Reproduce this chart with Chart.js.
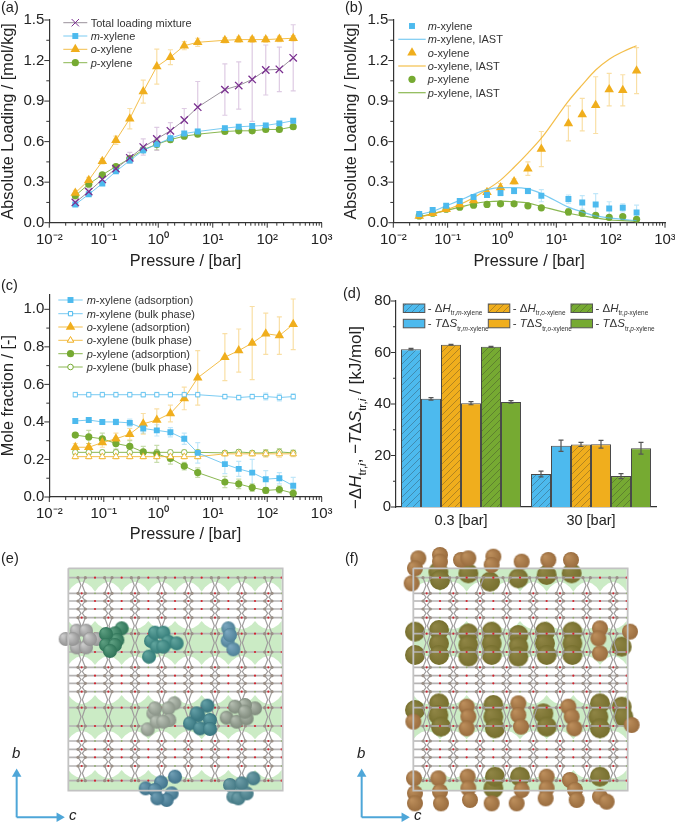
<!DOCTYPE html>
<html>
<head>
<meta charset="utf-8">
<title>Xylene adsorption</title>
<script src="https://cdn.jsdelivr.net/npm/chart.js@4/dist/chart.umd.js"></script>
<style>
  html, body { margin: 0; padding: 0; background: #fff; }
  canvas { position: absolute; }
  #chart-a { left: 0; top: 0; }
  #chart-b { left: 335px; top: 0; }
  #chart-c { left: 0; top: 270px; }
  #chart-d { left: 335px; top: 270px; }
  #chart-e { left: 0; top: 540px; }
  #chart-f { left: 335px; top: 540px; }
</style>
</head>
<body>
<canvas id="chart-a" width="335" height="270"></canvas>
<canvas id="chart-b" width="340" height="270"></canvas>
<canvas id="chart-c" width="335" height="273"></canvas>
<canvas id="chart-d" width="340" height="273"></canvas>
<canvas id="chart-e" width="330" height="283"></canvas>
<canvas id="chart-f" width="330" height="283"></canvas>
<script>
// pressures shared by panels a, b, c [bar]
var pressures = [0.03, 0.053, 0.094, 0.167, 0.3, 0.53, 0.94, 1.67, 3, 5.3, 16.7, 30, 53, 94, 167, 300];

// panel a: mixture loading
var aTotal = [0.15, 0.23, 0.32, 0.40, 0.48, 0.56, 0.62, 0.68, 0.76, 0.855, 0.985, 1.015, 1.06, 1.13, 1.135, 1.22];
var aTotalErr = [0.02, 0.02, 0.02, 0.03, 0.04, 0.06, 0.085, 0.06, 0.085, 0.19, 0.19, 0.175, 0.31, 0.185, 0.165, 0.245];
var aMeta = [0.135, 0.21, 0.29, 0.38, 0.46, 0.535, 0.58, 0.625, 0.66, 0.675, 0.70, 0.71, 0.715, 0.72, 0.735, 0.755];
var aMetaErr = [0.01, 0.01, 0.01, 0.01, 0.015, 0.02, 0.02, 0.02, 0.015, 0.015, 0.015, 0.015, 0.015, 0.015, 0.015, 0.015];
var aOrtho = [0.22, 0.315, 0.455, 0.61, 0.77, 0.97, 1.155, 1.225, 1.31, 1.335, 1.35, 1.355, 1.355, 1.355, 1.36, 1.365];
var aOrthoErr = [0.02, 0.02, 0.02, 0.03, 0.075, 0.085, 0.13, 0.055, 0.03, 0.03, 0.02, 0.02, 0.02, 0.02, 0.02, 0.02];
var aPara = [0.20, 0.285, 0.355, 0.415, 0.475, 0.54, 0.58, 0.615, 0.64, 0.655, 0.675, 0.68, 0.68, 0.69, 0.69, 0.71];
var aParaErr = [0.01, 0.01, 0.01, 0.01, 0.015, 0.02, 0.04, 0.02, 0.015, 0.015, 0.015, 0.015, 0.015, 0.015, 0.015, 0.015];

// panel b: simulation vs IAST
var bMeta = [0.065, 0.095, 0.125, 0.16, 0.19, 0.205, 0.22, 0.235, 0.235, 0.20, 0.175, 0.15, 0.135, 0.105, 0.11, 0.075];
var bMetaErr = [0.01, 0.01, 0.01, 0.01, 0.015, 0.015, 0.02, 0.02, 0.02, 0.045, 0.03, 0.05, 0.08, 0.05, 0.03, 0.055];
var bOrtho = [0.05, 0.07, 0.10, 0.135, 0.165, 0.225, 0.26, 0.305, 0.40, 0.545, 0.735, 0.80, 0.87, 0.985, 0.98, 1.125];
var bOrthoErr = [0.005, 0.005, 0.01, 0.01, 0.02, 0.02, 0.03, 0.02, 0.05, 0.13, 0.13, 0.12, 0.21, 0.12, 0.115, 0.17];
var bPara = [0.05, 0.07, 0.10, 0.115, 0.13, 0.135, 0.14, 0.14, 0.125, 0.11, 0.08, 0.07, 0.055, 0.04, 0.045, 0.025];
var bParaErr = [0.005, 0.005, 0.005, 0.01, 0.01, 0.01, 0.01, 0.01, 0.01, 0.01, 0.025, 0.015, 0.01, 0.01, 0.01, 0.01];
var bMetaIast = [0.06, 0.085, 0.125, 0.165, 0.21, 0.245, 0.26, 0.26, 0.25, 0.215, 0.115, 0.08, 0.05, 0.035, 0.025, 0.015];
var bOrthoIast = [0.04, 0.065, 0.095, 0.135, 0.185, 0.245, 0.315, 0.41, 0.515, 0.625, 0.90, 1.02, 1.13, 1.21, 1.265, 1.31];
var bParaIast = [0.045, 0.065, 0.09, 0.115, 0.14, 0.155, 0.16, 0.155, 0.145, 0.12, 0.07, 0.05, 0.035, 0.02, 0.015, 0.01];

// panel c: mole fractions
var cMetaAds = [0.405, 0.41, 0.40, 0.40, 0.395, 0.365, 0.355, 0.345, 0.31, 0.235, 0.175, 0.15, 0.13, 0.095, 0.10, 0.06];
var cMetaAdsErr = [0.01, 0.01, 0.01, 0.015, 0.02, 0.025, 0.03, 0.025, 0.03, 0.055, 0.05, 0.04, 0.07, 0.045, 0.03, 0.045];
var cMetaBulk = [0.545, 0.545, 0.545, 0.545, 0.545, 0.545, 0.545, 0.545, 0.545, 0.545, 0.535, 0.53, 0.535, 0.535, 0.53, 0.535];
var cOrthoAds = [0.265, 0.265, 0.29, 0.31, 0.335, 0.39, 0.41, 0.445, 0.525, 0.635, 0.745, 0.78, 0.82, 0.87, 0.86, 0.92];
var cOrthoAdsErr = [0.02, 0.02, 0.025, 0.03, 0.03, 0.055, 0.06, 0.045, 0.06, 0.145, 0.125, 0.115, 0.195, 0.11, 0.1, 0.135];
var cOrthoBulk = [0.215, 0.215, 0.215, 0.215, 0.215, 0.215, 0.215, 0.215, 0.215, 0.215, 0.23, 0.23, 0.23, 0.23, 0.23, 0.23];
var cParaAds = [0.33, 0.32, 0.31, 0.285, 0.27, 0.24, 0.23, 0.205, 0.165, 0.13, 0.08, 0.07, 0.05, 0.035, 0.04, 0.02];
var cParaAdsErr = [0.01, 0.035, 0.03, 0.03, 0.03, 0.03, 0.045, 0.03, 0.02, 0.025, 0.03, 0.025, 0.02, 0.015, 0.02, 0.02];
var cParaBulk = [0.238, 0.238, 0.238, 0.238, 0.238, 0.238, 0.238, 0.238, 0.238, 0.238, 0.235, 0.24, 0.235, 0.235, 0.24, 0.235];
var cBulkErr = [0.012, 0.012, 0.012, 0.012, 0.012, 0.012, 0.012, 0.012, 0.012, 0.012, 0.012, 0.012, 0.012, 0.018, 0.018, 0.015];

// panel d: enthalpy and entropy terms at two pressures
var dCategories = ['0.3 [bar]', '30 [bar]'];
var dMetaH = [61.3, 12.8], dMetaHErr = [0.3, 1.1];
var dMetaS = [42.0, 23.8], dMetaSErr = [0.5, 2.2];
var dOrthoH = [63.0, 24.3], dOrthoHErr = [0.15, 0.8];
var dOrthoS = [40.3, 24.4], dOrthoSErr = [0.6, 1.5];
var dParaH = [62.2, 12.0], dParaHErr = [0.2, 1.0];
var dParaS = [40.8, 22.8], dParaSErr = [0.5, 2.3];

// panels e, f: framework lattice
var latticeCols = [245, 325, 405, 485, 565, 645, 725, 805];
var latticeRows = [113, 160, 183, 207, 233, 281, 336, 382, 407, 430, 455, 503, 558, 603, 628, 652, 678, 722];
var colOxygenRows = [160, 183, 233, 281, 336, 382, 455, 503, 558, 603, 628, 678, 722];
var midOxygenRows = [113, 183, 207, 281, 336, 407, 430, 503, 558, 628, 652, 722];
var boxEdges = [205, 848, 85, 752];
// [top rim at column, top rim at midpoint, bottom rim at column, bottom rim at midpoint]
var bands = [[85, 85, 125, 155], [268, 243, 348, 375], [492, 465, 572, 598], [715, 690, 752, 752]];

// panel e: adsorbed molecules
var molGrey = [[197, 297], [290, 297], [230, 272], [258, 272], [230, 322], [258, 322], [218, 297], [270, 297]];
var molGreen = [[365, 265], [345, 280], [352, 300], [318, 282], [318, 315], [345, 315], [330, 333]];
var molTeal = [[447, 350], [453, 303], [465, 278], [490, 278], [505, 305], [530, 310], [470, 320], [490, 320]];
var molBlue = [[685, 265], [683, 302], [700, 328], [690, 285]];
var molSage = [[523, 490], [505, 505], [460, 520], [508, 540], [443, 568], [470, 545], [490, 545], [465, 505]];
var molTeal2 = [[622, 497], [595, 525], [630, 540], [570, 550], [600, 565], [630, 567], [590, 520]];
var molSage2 = [[765, 505], [735, 495], [705, 500], [680, 533], [710, 545], [740, 535], [735, 515]];
var molBlue2 = [[525, 710], [483, 727], [437, 745], [465, 750], [515, 760], [500, 780], [472, 775]];
var molBlue3 = [[760, 715], [690, 735], [725, 755], [700, 770], [715, 775], [740, 760], [725, 730]];

// panel f: density spots
var spotOlive = [
  [310, 95], [315, 120], [400, 100], [465, 125], [550, 115], [635, 105], [710, 100],
  [240, 275], [240, 345], [312, 270], [312, 310], [312, 345], [400, 280], [400, 315], [400, 350],
  [470, 275], [470, 310], [470, 345], [550, 285], [550, 320], [550, 350], [630, 275], [630, 310], [635, 345],
  [712, 275], [712, 310], [712, 345], [860, 320],
  [240, 510], [312, 490], [310, 525], [318, 560], [475, 495], [475, 530], [480, 565], [625, 520], [635, 560],
  [795, 490], [790, 530], [795, 565], [860, 500], [865, 530],
  [475, 745], [480, 710], [555, 710], [795, 710]
];
var spotBrown = [
  [250, 55], [240, 85], [230, 130], [315, 45], [315, 65], [378, 60], [400, 55], [475, 50], [470, 75], [560, 65], [640, 60], [708, 60],
  [795, 265], [790, 295], [795, 340], [885, 275],
  [395, 500], [400, 530], [395, 565], [550, 490], [550, 525], [558, 560], [700, 500], [710, 530], [718, 565], [235, 545], [890, 555],
  [237, 715], [240, 760], [240, 790], [310, 715], [315, 755], [318, 790], [398, 710], [400, 745], [405, 780],
  [470, 790], [545, 790], [560, 750], [635, 710], [635, 745], [632, 775], [705, 720], [720, 750], [725, 780], [795, 770], [815, 785]
];

var FONT = '"Liberation Sans", Arial, sans-serif';
var BLUE = '#4dbaee', ORANGE = '#f0ae1d', GREEN = '#76aa32', PURPLE = '#7a2f90';
var AXIS = '#333333';

Chart.defaults.font.family = FONT;
Chart.defaults.color = '#222222';

function withPressure(values) {
  return values.map(function (v, i) { return { x: pressures[i], y: v }; });
}

// italic/subscript text, parts are [text, style]: '' plain, 'i' italic, 's' subscript, 't' tiny subscript
function isLowered(style) { return style.charAt(0) === 's' || style.charAt(0) === 't'; }

function partFont(style, size) {
  var scale = style.charAt(0) === 's' ? 0.68 : (style.charAt(0) === 't' ? 0.56 : 1);
  return (style.indexOf('i') >= 0 ? 'italic ' : '') + size * scale + 'px ' + FONT;
}

function richWidth(ctx, parts, size) {
  var w = 0;
  parts.forEach(function (p) {
    ctx.font = partFont(p[1], size);
    w += ctx.measureText(p[0]).width;
  });
  return w;
}

function drawRich(ctx, parts, x, y, size) {
  ctx.textAlign = 'left';
  ctx.textBaseline = 'alphabetic';
  parts.forEach(function (p) {
    ctx.font = partFont(p[1], size);
    ctx.fillText(p[0], x, isLowered(p[1]) ? y + size * 0.3 : y);
    x += ctx.measureText(p[0]).width;
  });
}

// tick marks, longer on labelled ticks
var tickMarks = {
  id: 'tickMarks',
  afterDraw: function (chart) {
    var ctx = chart.ctx;
    ['x', 'y'].forEach(function (id) {
      var scale = chart.scales[id];
      if (!scale.options.display || scale.type === 'category') return;
      ctx.save();
      ctx.strokeStyle = AXIS;
      ctx.lineWidth = 1;
      scale.ticks.forEach(function (t) {
        var len = t.label ? 5 : 3;
        var p = scale.getPixelForValue(t.value);
        ctx.beginPath();
        if (id === 'x') {
          ctx.moveTo(p, scale.top);
          ctx.lineTo(p, scale.top + len);
        } else {
          ctx.moveTo(scale.right, p);
          ctx.lineTo(scale.right - len, p);
        }
        ctx.stroke();
      });
      ctx.restore();
    });
  }
};

// whiskers from dataset.errors
function drawWhiskers(chart) {
  var ctx = chart.ctx;
  var yScale = chart.scales.y;
  chart.data.datasets.forEach(function (ds, di) {
    if (!ds.errors) return;
    var meta = chart.getDatasetMeta(di);
    ctx.save();
    ctx.strokeStyle = ds.errorColor;
    ctx.lineWidth = 1.2;
    ds.errors.forEach(function (err, i) {
      var raw = ds.data[i];
      var val = typeof raw === 'object' ? raw.y : raw;
      var x = meta.data[i].x;
      var hi = yScale.getPixelForValue(val + err);
      var lo = yScale.getPixelForValue(val - err);
      ctx.beginPath();
      ctx.moveTo(x, hi);
      ctx.lineTo(x, lo);
      ctx.moveTo(x - 2.5, hi);
      ctx.lineTo(x + 2.5, hi);
      ctx.moveTo(x - 2.5, lo);
      ctx.lineTo(x + 2.5, lo);
      ctx.stroke();
    });
    ctx.restore();
  });
}

var errorBars = {
  id: 'errorBars',
  beforeDatasetsDraw: function (chart) { if (chart.config.type !== 'bar') drawWhiskers(chart); },
  afterDatasetsDraw: function (chart) { if (chart.config.type === 'bar') drawWhiskers(chart); }
};

// legend with italic parts, rows come from dataset.parts
var richLegend = {
  id: 'richLegend',
  afterDraw: function (chart, args, opts) {
    if (!opts.rows) return;
    var ctx = chart.ctx;
    chart.data.datasets.forEach(function (ds, i) {
      var y = opts.rows[i];
      ctx.save();
      if (ds.showLine !== false) {
        ctx.strokeStyle = ds.borderColor;
        ctx.lineWidth = ds.borderWidth;
        ctx.beginPath();
        ctx.moveTo(opts.line[0], y);
        ctx.lineTo(opts.line[1], y);
        ctx.stroke();
      }
      if (ds.pointRadius > 0) {
        ctx.fillStyle = ds.pointBackgroundColor;
        ctx.strokeStyle = ds.pointBorderColor;
        Chart.helpers.drawPoint(ctx, {
          pointStyle: ds.pointStyle, radius: ds.pointRadius, rotation: 0, borderWidth: ds.pointBorderWidth
        }, (opts.line[0] + opts.line[1]) / 2, y);
      }
      ctx.fillStyle = '#333333';
      drawRich(ctx, ds.parts, opts.textX, y + 4, opts.size);
      ctx.restore();
    });
  }
};

// legend of the bar panel: swatch grid
var swatchLegend = {
  id: 'swatchLegend',
  afterDraw: function (chart, args, opts) {
    if (!opts.cols) return;
    var ctx = chart.ctx;
    chart.data.datasets.forEach(function (ds, i) {
      var x = opts.cols[Math.floor(i / 2)];
      var y = opts.rows[i % 2];
      ctx.save();
      ctx.fillStyle = ds.backgroundColor;
      ctx.fillRect(x, y, 21.5, 8.5);
      ctx.strokeStyle = '#555555';
      ctx.lineWidth = 1;
      ctx.strokeRect(x, y, 21.5, 8.5);
      ctx.fillStyle = '#333333';
      drawRich(ctx, ds.parts, x + 24.5, y + 8, 11.5);
      ctx.restore();
    });
  }
};

// panel letter and any other loose text, positions in canvas pixels
var looseText = {
  id: 'looseText',
  afterDraw: function (chart, args, opts) {
    var ctx = chart.ctx;
    (opts.items || []).forEach(function (t) {
      ctx.save();
      ctx.fillStyle = '#222222';
      ctx.translate(t.x, t.y);
      if (t.vertical) {
        ctx.rotate(-Math.PI / 2);
        drawRich(ctx, t.parts, -richWidth(ctx, t.parts, t.size) / 2, 0, t.size);
      } else {
        drawRich(ctx, t.parts, 0, 0, t.size);
      }
      ctx.restore();
    });
  }
};

Chart.register(tickMarks, errorBars, richLegend, swatchLegend, looseText);

var SUPER = { '-': '\u207B', '0': '\u2070', '1': '\u00B9', '2': '\u00B2', '3': '\u00B3' };

function logLabel(v) {
  var e = Math.log10(v);
  if (Math.abs(e - Math.round(e)) > 1e-9) return '';
  return '10' + String(Math.round(e)).split('').map(function (c) { return SUPER[c]; }).join('');
}

function pressureAxis(height) {
  return {
    type: 'logarithmic',
    min: 0.01,
    max: 1000,
    grid: { display: false, drawTicks: false },
    border: { color: AXIS, width: 1.2 },
    ticks: { autoSkip: false, maxRotation: 0, padding: 8, color: '#222222', font: { size: 15 }, callback: logLabel },
    title: { display: true, text: 'Pressure / [bar]', color: '#222222', font: { size: 16.3, lineHeight: 1 }, padding: 0 },
    afterFit: function (s) { s.height = height; s.paddingLeft = 0; s.paddingRight = 0; }
  };
}

function valueAxis(max, step, every, decimals, width, title, titlePad) {
  return {
    min: 0,
    max: max,
    grid: { display: false, drawTicks: false },
    border: { color: AXIS, width: 1.2 },
    ticks: {
      stepSize: step,
      autoSkip: false,
      includeBounds: false,
      padding: 5,
      color: '#222222',
      font: { size: 15 },
      callback: function (v, i) { return i % every === 0 ? v.toFixed(decimals) : ''; }
    },
    title: { display: !!title, text: title, color: '#222222', font: { size: 16.3, lineHeight: 1 }, padding: { top: titlePad, bottom: 0 } },
    afterFit: function (s) { s.width = width; s.paddingTop = 0; s.paddingBottom = 0; }
  };
}

function mark(parts, values, errors, color, lineColor, errorColor, style, radius, open) {
  return {
    parts: parts,
    data: withPressure(values),
    errors: errors,
    errorColor: errorColor,
    showLine: true,
    borderColor: lineColor,
    borderWidth: 1,
    pointStyle: style,
    pointRadius: radius,
    pointHoverRadius: radius,
    pointBackgroundColor: open ? '#ffffff' : color,
    pointBorderColor: color,
    pointBorderWidth: style === 'crossRot' ? 1.3 : (open ? 0.8 : 0),
    tension: 0
  };
}

function dots(parts, values, errors, color, errorColor, style, radius) {
  var d = mark(parts, values, errors, color, color, errorColor, style, radius, false);
  d.showLine = false;
  return d;
}

function curve(parts, values, color) {
  return {
    parts: parts,
    data: withPressure(values),
    showLine: true,
    borderColor: color,
    borderWidth: 1.2,
    pointRadius: 0,
    cubicInterpolationMode: 'monotone'
  };
}

function pressureOptions(yAxis, xHeight, padding, legend, letter) {
  return {
    responsive: false,
    animation: false,
    layout: { padding: padding, autoPadding: false },
    scales: { x: pressureAxis(xHeight), y: yAxis },
    plugins: {
      legend: { display: false },
      tooltip: { enabled: false },
      richLegend: legend,
      looseText: { items: [letter] }
    }
  };
}

var M = [['m', 'i'], ['-xylene', '']];
var O = [['o', 'i'], ['-xylene', '']];
var P = [['p', 'i'], ['-xylene', '']];
function plus(base, tail) { return base.concat([[tail, '']]); }

var BLUE_L = 'rgba(77,186,238,0.75)', ORANGE_L = 'rgba(240,174,29,0.8)', GREEN_L = 'rgba(118,170,50,0.85)';
var BLUE_E = 'rgba(77,186,238,0.35)', ORANGE_E = 'rgba(240,174,29,0.4)', GREEN_E = 'rgba(118,170,50,0.4)', PURPLE_E = 'rgba(122,47,144,0.25)';

new Chart(document.getElementById('chart-a'), {
  type: 'scatter',
  data: {
    datasets: [
      mark([['Total loading mixture', '']], aTotal, aTotalErr, PURPLE, '#9a929c', PURPLE_E, 'crossRot', 5.2, false),
      mark(M, aMeta, aMetaErr, BLUE, BLUE_L, BLUE_E, 'rect', 4.2, false),
      mark(O, aOrtho, aOrthoErr, ORANGE, ORANGE_L, ORANGE_E, 'triangle', 5.5, false),
      mark(P, aPara, aParaErr, GREEN, GREEN_L, GREEN_E, 'circle', 3.6, false)
    ]
  },
  options: pressureOptions(
    valueAxis(1.5, 0.15, 2, 1, 49.3, 'Absolute Loading / [mol/kg]', 0),
    47.3, { top: 20, right: 13.3 },
    { rows: [22.7, 36, 49.3, 62.7], line: [63.3, 87.3], textX: 90.7, size: 11 },
    { x: 1, y: 12, size: 14.5, parts: [['(a)', '']] }
  )
});

new Chart(document.getElementById('chart-b'), {
  type: 'scatter',
  data: {
    datasets: [
      dots(M, bMeta, bMetaErr, BLUE, BLUE_E, 'rect', 4.2),
      curve(plus(M, ', IAST'), bMetaIast, BLUE_L),
      dots(O, bOrtho, bOrthoErr, ORANGE, ORANGE_E, 'triangle', 5.5),
      curve(plus(O, ', IAST'), bOrthoIast, ORANGE_L),
      dots(P, bPara, bParaErr, GREEN, GREEN_E, 'circle', 3.6),
      curve(plus(P, ', IAST'), bParaIast, GREEN_L)
    ]
  },
  options: pressureOptions(
    valueAxis(1.5, 0.15, 2, 1, 58.3, 'Absolute Loading / [mol/kg]', 8),
    47.3, { top: 20, right: 10 },
    { rows: [26, 39.3, 52.7, 66, 79.3, 92.7], line: [63.3, 90.7], textX: 92.7, size: 11 },
    { x: 10, y: 12, size: 14.5, parts: [['(b)', '']] }
  )
});

new Chart(document.getElementById('chart-c'), {
  type: 'scatter',
  data: {
    datasets: [
      mark(plus(M, ' (adsorption)'), cMetaAds, cMetaAdsErr, BLUE, BLUE_L, BLUE_E, 'rect', 4.2, false),
      mark(plus(M, ' (bulk phase)'), cMetaBulk, cBulkErr, BLUE, BLUE_L, BLUE_E, 'rect', 3, true),
      mark(plus(O, ' (adsorption)'), cOrthoAds, cOrthoAdsErr, ORANGE, ORANGE_L, ORANGE_E, 'triangle', 5.5, false),
      mark(plus(O, ' (bulk phase)'), cOrthoBulk, cBulkErr, ORANGE, ORANGE_L, ORANGE_E, 'triangle', 3.8, true),
      mark(plus(P, ' (adsorption)'), cParaAds, cParaAdsErr, GREEN, GREEN_L, GREEN_E, 'circle', 3.6, false),
      mark(plus(P, ' (bulk phase)'), cParaBulk, cBulkErr, GREEN, GREEN_L, GREEN_E, 'circle', 2.8, true)
    ]
  },
  options: pressureOptions(
    valueAxis(1.08, 0.1, 2, 1, 49.3, 'Mole fraction / [-]', 0),
    46, { top: 24.3, right: 13.3 },
    { rows: [30, 43.7, 57, 70.3, 83.7, 97], line: [58.3, 82.7], textX: 86.7, size: 11 },
    { x: 1, y: 20, size: 14.5, parts: [['(c)', '']] }
  )
});

function hatch(color) {
  var c = document.createElement('canvas');
  c.width = c.height = 7;
  var g = c.getContext('2d');
  g.fillStyle = color;
  g.fillRect(0, 0, 7, 7);
  g.strokeStyle = 'rgba(40,40,40,0.45)';
  g.lineWidth = 0.7;
  g.beginPath();
  g.moveTo(-1, 8);
  g.lineTo(8, -1);
  g.moveTo(-1, 1);
  g.lineTo(1, -1);
  g.moveTo(6, 8);
  g.lineTo(8, 6);
  g.stroke();
  return g.createPattern(c, 'repeat');
}

function bar(parts, values, errors, fill) {
  return {
    parts: parts,
    data: values,
    errors: errors,
    errorColor: '#555555',
    backgroundColor: fill,
    borderColor: '#4a4a4a',
    borderWidth: 1,
    barPercentage: 1,
    categoryPercentage: 0.923
  };
}

function dH(iso) { return [['- \u0394', ''], ['H', 'i'], ['tr,', 't'], [iso, 'ti'], ['-xylene', 't']]; }
function tS(iso) { return [['- ', ''], ['T', 'i'], ['\u0394', ''], ['S', 'i'], ['tr,', 't'], [iso, 'ti'], ['-xylene', 't']]; }

new Chart(document.getElementById('chart-d'), {
  type: 'bar',
  data: {
    labels: dCategories,
    datasets: [
      bar(dH('m'), dMetaH, dMetaHErr, hatch(BLUE)),
      bar(tS('m'), dMetaS, dMetaSErr, BLUE),
      bar(dH('o'), dOrthoH, dOrthoHErr, hatch(ORANGE)),
      bar(tS('o'), dOrthoS, dOrthoSErr, ORANGE),
      bar(dH('p'), dParaH, dParaHErr, hatch(GREEN)),
      bar(tS('p'), dParaS, dParaSErr, GREEN)
    ]
  },
  options: {
    responsive: false,
    animation: false,
    layout: { padding: { top: 31, right: 19 }, autoPadding: false },
    scales: {
      x: {
        grid: { display: false, drawTicks: false },
        border: { color: AXIS, width: 1.2 },
        ticks: { padding: 5, color: '#222222', font: { size: 14.5 } },
        afterFit: function (s) { s.height = 36; s.paddingLeft = 0; s.paddingRight = 0; }
      },
      y: valueAxis(80, 10, 2, 0, 61, '', 0)
    },
    plugins: {
      legend: { display: false },
      tooltip: { enabled: false },
      swatchLegend: { cols: [68.3, 153.3, 236], rows: [34, 49.3] },
      looseText: {
        items: [
          { x: 8, y: 28, size: 14.5, parts: [['(d)', '']] },
          { x: 26, y: 147.5, size: 17, vertical: true, parts: [['\u2212\u0394', ''], ['H', 'i'], ['tr,', 's'], ['i', 'si'], [', \u2212', ''], ['T', 'i'], ['\u0394', ''], ['S', 'i'], ['tr,', 's'], ['i', 'si'], [' / [kJ/mol]', '']] }
        ]
      }
    }
  }
});

// sphere sprite used as a point style
function sphere(color, rim, r) {
  var c = document.createElement('canvas');
  c.width = c.height = r * 2 + 2;
  var g = c.getContext('2d');
  var grad = g.createRadialGradient(r - r / 3, r - r / 3, 0.5, r + 1, r + 1, r);
  grad.addColorStop(0, color);
  grad.addColorStop(1, rim);
  g.fillStyle = grad;
  g.beginPath();
  g.arc(r + 1, r + 1, r, 0, Math.PI * 2);
  g.fill();
  return c;
}

function cloud(list, style, r) {
  return {
    data: list.map(function (p) { return { x: p[0], y: p[1] }; }),
    pointStyle: style,
    pointRadius: r,
    pointHoverRadius: r,
    showLine: false
  };
}

function lineSet(points, color, width) {
  return {
    data: points.map(function (p) { return { x: p[0], y: p[1] }; }),
    showLine: true,
    borderColor: color,
    borderWidth: width,
    pointRadius: 0,
    tension: 0
  };
}

function dotSet(points, color, r) {
  return {
    data: points.map(function (p) { return { x: p[0], y: p[1] }; }),
    showLine: false,
    pointRadius: r,
    pointBackgroundColor: color,
    pointBorderWidth: 0
  };
}

// rim of a green band, cusp at the midpoints between columns
var scallopOffset = [-40, -30, -16, 0, 16, 30];
var scallopDepth = [0, 0.45, 0.82, 1, 0.82, 0.45];

function rim(dx, atCol, atMid) {
  var pts = [];
  latticeCols.forEach(function (col) {
    scallopOffset.forEach(function (o, i) {
      pts.push([col + dx + o, atMid + (atCol - atMid) * scallopDepth[i]]);
    });
  });
  pts.push([latticeCols[latticeCols.length - 1] + dx + 40, atMid]);
  return pts;
}

function bandSets(dx) {
  return bands.map(function (b) {
    var poly = rim(dx, b[0], b[1]).concat(rim(dx, b[2], b[3]).reverse());
    var d = lineSet(poly, 'rgba(0,0,0,0)', 0);
    d.fill = 'shape';
    d.backgroundColor = 'rgba(178,226,170,0.68)';
    return d;
  });
}

function latticeSets(dx) {
  var sets = [];
  var left = boxEdges[0] + dx, right = boxEdges[1] + dx;
  latticeRows.forEach(function (y) {
    sets.push(lineSet([[left, y], [right, y]], '#b5b3b3', 1.7));
  });
  var joints = [];
  latticeCols.forEach(function (col) {
    [-1, 1].forEach(function (side) {
      var zig = [];
      latticeRows.forEach(function (y, i) {
        zig.push([col + dx + side * 11, y]);
        joints.push([col + dx + side * 11, y]);
        if (i < latticeRows.length - 1) {
          zig.push([col + dx + side * 2, (y + latticeRows[i + 1]) / 2]);
        }
      });
      sets.push(lineSet(zig, '#a09d9d', 1.2));
    });
  });
  sets.push(dotSet(joints, '#9a8f86', 1.6));
  var colOx = [], midOx = [], midGreen = [];
  latticeCols.forEach(function (col) {
    colOxygenRows.forEach(function (y) { colOx.push([col + dx, y]); });
    midOxygenRows.forEach(function (y) { midOx.push([col + dx + 40, y]); });
    colOxygenRows.forEach(function (y) {
      if (midOxygenRows.indexOf(y) < 0) midGreen.push([col + dx + 40, y]);
    });
  });
  sets.push(dotSet(colOx, '#c92b34', 1.1));
  sets.push(dotSet(midOx, '#d4232e', 1.1));
  sets.push(dotSet(midGreen, '#8fae6a', 0.9));
  return sets;
}

function boxSet(dx) {
  var l = boxEdges[0] + dx, r = boxEdges[1] + dx, t = boxEdges[2], b = boxEdges[3];
  return lineSet([[l, t], [r, t], [r, b], [l, b], [l, t]], '#c2c2c2', 1.8);
}

function axisArrows(dx) {
  var vert = lineSet([[50 + dx, 832], [50 + dx, 702]], '#4ea6d8', 2);
  var horiz = lineSet([[50 + dx, 832], [178 + dx, 832]], '#4ea6d8', 2);
  [vert, horiz].forEach(function (d, i) {
    d.pointRadius = [0, 5.5];
    d.pointStyle = 'triangle';
    d.pointRotation = i === 0 ? 0 : 90;
    d.pointBackgroundColor = '#4ea6d8';
    d.pointBorderWidth = 0;
  });
  return [vert, horiz];
}

// under: drawn below the lattice rods, over: drawn on top of them
function structureChart(id, dx, under, over, letter, letterX) {
  var all = bandSets(dx).concat(under, latticeSets(dx), over, [boxSet(dx)], axisArrows(dx));
  all.forEach(function (d, i, a) { d.order = a.length - i; });
  new Chart(document.getElementById(id), {
    type: 'scatter',
    data: { datasets: all },
    options: {
      responsive: false,
      animation: false,
      layout: { padding: 0, autoPadding: false },
      scales: {
        x: { display: false, min: 0, max: 990 },
        y: { display: false, min: 0, max: 849, reverse: true }
      },
      plugins: {
        legend: { display: false },
        tooltip: { enabled: false },
        looseText: {
          items: [
            { x: letterX, y: 23, size: 14.5, parts: [[letter, '']] },
            { x: 12 + dx / 3, y: 218, size: 15, parts: [['b', 'i']] },
            { x: 69 + dx / 3, y: 280, size: 15, parts: [['c', 'i']] }
          ]
        }
      }
    }
  });
}

structureChart('chart-e', 0, [], [
  cloud(molGrey, sphere('#cdcdcd', '#929292', 7), 7),
  cloud(molGreen, sphere('#5c9e80', '#2f7458', 7), 7),
  cloud(molTeal, sphere('#62a59e', '#357d7a', 7), 7),
  cloud(molBlue, sphere('#7ba7bf', '#4f8198', 7), 7),
  cloud(molSage, sphere('#bcc4b8', '#8a9488', 7), 7),
  cloud(molTeal2, sphere('#639fa6', '#38757f', 7), 7),
  cloud(molSage2, sphere('#b4bdb0', '#7f8a7c', 7), 7),
  cloud(molBlue2, sphere('#6f9eb4', '#41748c', 7), 7),
  cloud(molBlue3, sphere('#6f9fa9', '#447985', 7), 7)
], '(e)', 1);

structureChart('chart-f', 30, [
  cloud(spotOlive, sphere('#8f8545', '#77702f', 10), 10)
], [
  cloud(spotBrown, sphere('#bd8f5c', '#9a6d3f', 8), 8)
], '(f)', 10);
</script>
</body>
</html>
